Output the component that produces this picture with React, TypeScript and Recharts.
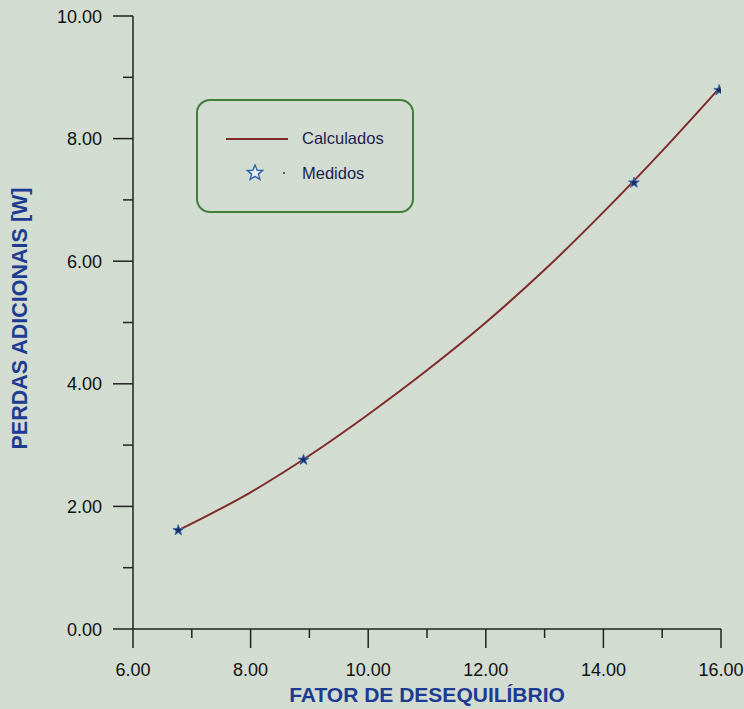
import {ComposedChart, Legend, Line, Scatter, XAxis, YAxis, ZAxis, Label} from "recharts";

// curva calculada
const calcX = [6.75, 8, 9, 10, 11, 12, 13, 14, 15, 15.95];
const calcY = [1.6, 2.23, 2.83, 3.5, 4.22, 5.0, 5.86, 6.8, 7.8, 8.8];
// pontos medidos
const medX = [6.77, 8.9, 14.52, 15.97];
const medY = [1.61, 2.76, 7.28, 8.79];

const xTicks = [6, 7, 8, 9, 10, 11, 12, 13, 14, 15, 16];
const yTicks = [0, 1, 2, 3, 4, 5, 6, 7, 8, 9, 10];

const calculados = calcX.map((x, i) => ({x, y: calcY[i]}));
const medidos = medX.map((x, i) => ({x, y: medY[i]}));

const BG = "#d3dcd1";
const AXIS = "#222";
const TITLE = "#1d3b92";
const LINE = "#7e2b2b";
const FONT = "'Liberation Sans', Arial, sans-serif";

const XTick = (props: any) => {
    const {x, y, payload} = props;
    const major = payload.value % 2 === 0;
    return <g>
        <line x1={x} x2={x} y1={y} y2={y + (major ? 19 : 9)} stroke={AXIS} strokeWidth={1.5}/>
        {major && <text x={x} y={y + 47} textAnchor="middle" fontSize={18} fill="#111"
                        fontFamily={FONT}>{payload.value.toFixed(2)}</text>}
    </g>
}

const YTick = (props: any) => {
    const {x, y, payload} = props;
    const major = payload.value % 2 === 0;
    return <g>
        <line x1={x - (major ? 20 : 10)} x2={x} y1={y} y2={y} stroke={AXIS} strokeWidth={1.5}/>
        {major && <text x={x - 31} y={y} dy={6.5} textAnchor="end" fontSize={18} fill="#111"
                        fontFamily={FONT}>{payload.value.toFixed(2)}</text>}
    </g>
}

const LegendBox = () => <div style={{
    width: 214, height: 110, border: "2px solid #3f7d3a", borderRadius: 14,
    fontFamily: FONT, fontSize: 16.5, color: "#1b1f4e", position: "relative"
}}>
    <div style={{position: "absolute", left: 28, top: 37, width: 62, height: 2, background: LINE}}/>
    <div style={{position: "absolute", left: 104, top: 28}}>Calculados</div>
    <svg style={{position: "absolute", left: 48, top: 63}} width={18} height={18} viewBox="-9 -9 18 18">
        <polygon points="0,-8 2.2,-2.6 7.6,-2.5 3.4,1.1 4.9,6.5 0,3.3 -4.9,6.5 -3.4,1.1 -7.6,-2.5 -2.2,-2.6"
                 fill="#e8eef0" stroke="#2d5fae" strokeWidth={1.4}/>
    </svg>
    <div style={{position: "absolute", left: 85, top: 71, width: 2, height: 2, background: "#556"}}/>
    <div style={{position: "absolute", left: 104, top: 63}}>Medidos</div>
</div>

export default function App() {
    return <div style={{position: "absolute", left: 0, top: 0, width: 744, height: 709, background: BG}}>
        <ComposedChart width={744} height={709} margin={{top: 16, right: 23, left: 132, bottom: 79}}>
            <XAxis dataKey="x" type="number" domain={[6, 16]} ticks={xTicks} interval={0} height={1}
                   tickSize={0} tickMargin={0} tickLine={false} tick={<XTick/>}
                   axisLine={{stroke: AXIS, strokeWidth: 1.5}} allowDataOverflow>
                <Label content={({viewBox}: any) =>
                    <text x={viewBox.x + viewBox.width / 2} y={viewBox.y + 73} textAnchor="middle" fill={TITLE}
                          fontSize={21} fontWeight="bold" fontFamily={FONT}>FATOR DE DESEQUILÍBRIO</text>
                }/>
            </XAxis>
            <YAxis dataKey="y" type="number" domain={[0, 10]} ticks={yTicks} interval={0} width={1}
                   tickSize={0} tickMargin={0} tickLine={false} tick={<YTick/>}
                   axisLine={{stroke: AXIS, strokeWidth: 1.5}} allowDataOverflow>
                <Label content={({viewBox}: any) => {
                    const cx = viewBox.x - 112;
                    const cy = viewBox.y + viewBox.height / 2 - 4;
                    return <text x={cx} y={cy} transform={`rotate(-90, ${cx}, ${cy})`} textAnchor="middle"
                                 dominantBaseline="central" fill={TITLE} fontSize={21.5} fontWeight="bold"
                                 fontFamily={FONT}>PERDAS ADICIONAIS [W]</text>
                }}/>
            </YAxis>
            <ZAxis range={[36, 36]}/>
            <Legend layout="vertical" align="center" verticalAlign="middle" content={<LegendBox/>}
                    wrapperStyle={{left: 196, top: 99, width: 218, height: 114}}/>
            <Line data={calculados} dataKey="y" name="Calculados" type="monotone" stroke={LINE} strokeWidth={2}
                  dot={false} isAnimationActive={false}/>
            <Scatter data={medidos} dataKey="y" name="Medidos" shape="star" fill="#1d2a5a" stroke="#3a6cb3"
                     strokeWidth={1} isAnimationActive={false}/>
        </ComposedChart>
    </div>
}
